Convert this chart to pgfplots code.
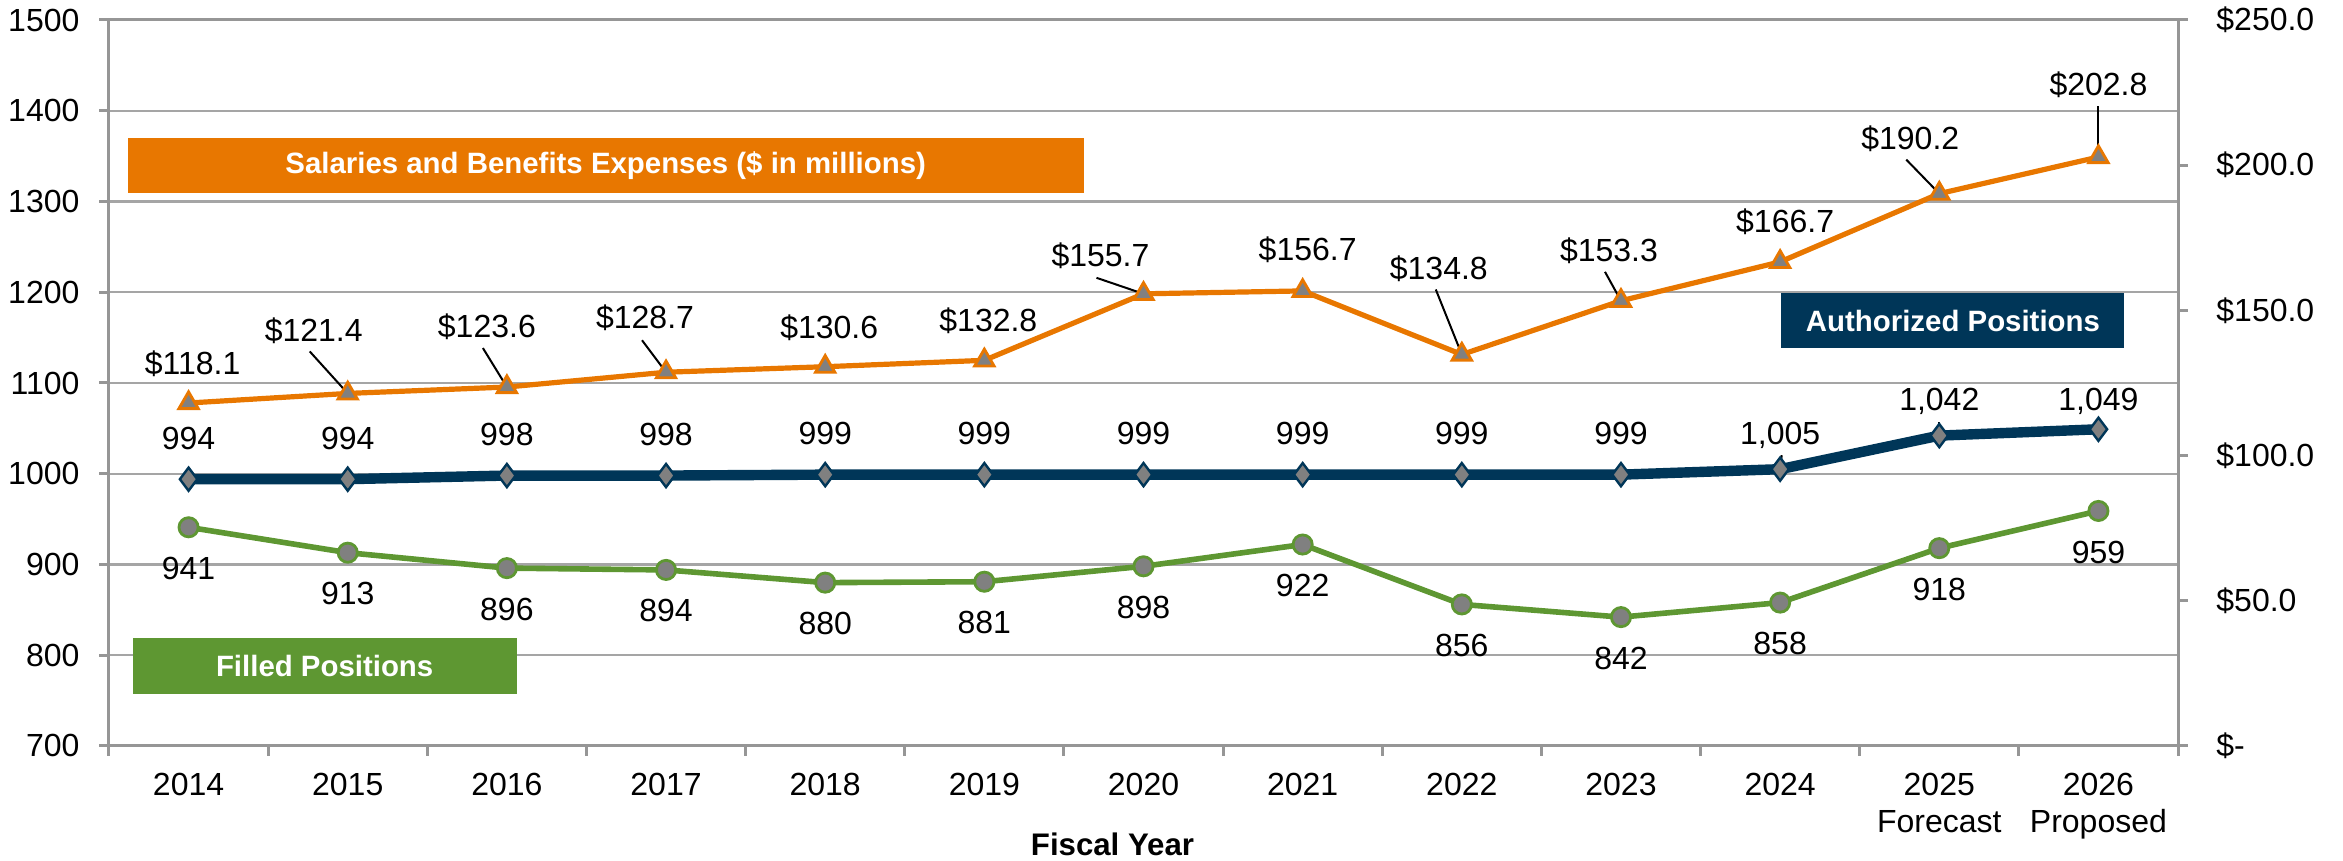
\documentclass[border=0pt]{standalone}
\usepackage{fontspec}
\setmainfont{Liberation Sans}
\usepackage{pgfplots}
\pgfplotsset{compat=1.18}
\usepackage{pgfplotstable}

\definecolor{sborange}{RGB}{232,119,0}
\definecolor{apnavy}{RGB}{0,54,88}
\definecolor{fpgreen}{RGB}{94,151,50}
\definecolor{mkgray}{RGB}{128,128,128}
\definecolor{axgray}{RGB}{150,150,150}
\definecolor{grgray}{RGB}{165,165,165}

% authorized positions: x, value, label offset (pt)
\pgfplotstableread{
x y dy
0 994 10.25
1 994 10.25
2 998 10.25
3 998 10.25
4 999 10.25
5 999 10.25
6 999 10.25
7 999 10.25
8 999 10.25
9 999 10.25
10 1005 8.5
11 1042 8.5
12 1049 7
}\authorized

\pgfplotstableread{
x y dy
0 941 -10.25
1 913 -10.25
2 896 -10.25
3 894 -10.25
4 880 -10.25
5 881 -10.25
6 898 -10.25
7 922 -10.25
8 856 -10.25
9 842 -10.25
10 858 -10.25
11 918 -10.25
12 959 -10.5
}\filled

% salaries and benefits ($ millions), right axis
\pgfplotstableread{
x y dx dy
0 118.1 1 9.75
1 121.4 -8.5 15.7
2 123.6 -5 15
3 128.7 -5.25 13.5
4 130.6 1 9.75
5 132.8 1 10
6 155.7 -10.75 9.5
7 156.7 1.25 10.25
8 134.8 -5.75 21.5
9 153.3 -3 12.5
10 166.7 1.25 10
11 190.2 -7.25 13.75
12 202.8 0 18
}\salaries

% leader line from a point (axis cs) to its label
\newcommand\leader[3]{%
  \draw[black, line width=0.5pt] (axis cs:#1) -- ([shift={(#2pt,#3pt)}]axis cs:#1);}

\begin{document}
\fontsize{8}{9.25}\selectfont
\begin{tikzpicture}
\pgfplotsset{
  chartbase/.style={
    scale only axis, width=517.25pt, height=181.5pt,
    xmin=-0.5, xmax=12.5, clip=false,
    tick align=outside, major tick length=2.4pt,
    axis line style={draw=axgray, line width=0.75pt},
    tick style={draw=axgray, line width=0.75pt},
    /pgf/number format/assume math mode=true,
  },
}
\begin{axis}[chartbase,
  ymin=700, ymax=1500,
  ytick={700,800,...,1500},
  yticklabels={700,800,900,1000,1100,1200,1300,1400,1500},
  ytick pos=left, xtick pos=bottom,
  ymajorgrids, major grid style={draw=grgray, line width=0.6pt},
  yticklabel style={anchor=east, inner sep=0pt, xshift=-4.8pt},
  xtick={-0.5,0.5,1.5,2.5,3.5,4.5,5.5,6.5,7.5,8.5,9.5,10.5,11.5,12.5},
  xticklabels={},
  extra x ticks={0,1,2,3,4,5,6,7,8,9,10,11,12},
  extra x tick labels={2014,2015,2016,2017,2018,2019,2020,2021,2022,2023,2024,{2025\\Forecast},{2026\\Proposed}},
  extra x tick style={major tick length=0pt},
  xticklabel style={align=center, anchor=north, inner sep=0pt, yshift=-6.5pt},
  xlabel={Fiscal Year},
  xlabel style={font=\bfseries\fontsize{7.8}{9}\selectfont, at={(axis description cs:0.485,0)}, anchor=center, yshift=-24.5pt},
]
\coordinate (bl) at (rel axis cs:0,0);
\coordinate (tr) at (rel axis cs:1,1);

\addplot[color=fpgreen, line width=1.4pt, mark=*, mark size=2.4pt,
  mark options={fill=mkgray, draw=fpgreen, line width=0.7pt},
  point meta=\thisrow{y},
  nodes near coords={\pgfmathprintnumber{\pgfplotspointmeta}},
  visualization depends on={\thisrow{dy} \as \ldy},
  every node near coord/.append style={anchor=center, yshift=\ldy pt, text=black, inner sep=0pt}]
  table[x=x, y=y] {\filled};

\addplot[color=apnavy, line width=2.6pt, mark=diamond*, mark size=2.9pt,
  mark options={fill=mkgray, draw=apnavy, line width=0.6pt},
  point meta=\thisrow{y},
  nodes near coords={\pgfmathprintnumber[1000 sep={,}]{\pgfplotspointmeta}},
  visualization depends on={\thisrow{dy} \as \ldy},
  every node near coord/.append style={anchor=center, yshift=\ldy pt, text=black, inner sep=0pt}]
  table[x=x, y=y] {\authorized};

\leader{10,1005}{0.4}{3.5}
\leader{11,1042}{0}{3.5}

\node[fill=sborange, text=white, font=\bfseries\fontsize{7.35}{8}\selectfont,
  minimum width=239.1pt, minimum height=13.75pt, inner sep=0pt]
  at (axis cs:2.621,1339.4) {Salaries and Benefits Expenses (\$ in millions)};
\node[fill=apnavy, text=white, font=\bfseries\fontsize{7.35}{8}\selectfont,
  minimum width=85.75pt, minimum height=13.75pt, inner sep=0pt]
  at (axis cs:11.086,1168.4) {Authorized Positions};
\node[fill=fpgreen, text=white, font=\bfseries\fontsize{7.35}{8}\selectfont,
  minimum width=96pt, minimum height=14pt, inner sep=0pt]
  at (axis cs:0.855,788.3) {Filled Positions};
\end{axis}

\begin{axis}[chartbase,
  ymin=0, ymax=250,
  axis x line=none, axis y line*=right,
  ytick={0,50,100,150,200,250},
  yticklabels={\$-,\$50.0,\$100.0,\$150.0,\$200.0,\$250.0},
  yticklabel style={anchor=west, inner sep=0pt, xshift=7pt},
]
\addplot[color=sborange, line width=1.3pt, mark=triangle*, mark size=2.8pt,
  mark options={fill=mkgray, draw=sborange, line width=0.7pt},
  point meta=\thisrow{y},
  nodes near coords={\$\pgfmathprintnumber[fixed, fixed zerofill, precision=1]{\pgfplotspointmeta}},
  visualization depends on={\thisrow{dx} \as \ldx},
  visualization depends on={\thisrow{dy} \as \ldy},
  every node near coord/.append style={anchor=center, xshift=\ldx pt, yshift=\ldy pt, text=black, inner sep=0pt}]
  table[x=x, y=y] {\salaries};

% leader lines to the labels
\leader{1,121.4}{-9.5}{10.5}
\leader{2,123.6}{-6}{9.75}
\leader{3,128.7}{-6}{8}
\leader{6,155.7}{-11.75}{4}
\leader{8,134.8}{-6.5}{16.25}
\leader{9,153.3}{-4}{7.25}
\leader{11,190.2}{-8.25}{8.5}
\leader{12,202.8}{0}{12.75}
\end{axis}

\pgfresetboundingbox
\path ([shift={(-27.25pt,-28.75pt)}]bl) rectangle ([shift={(41.25pt,5pt)}]tr);
\end{tikzpicture}
\end{document}
